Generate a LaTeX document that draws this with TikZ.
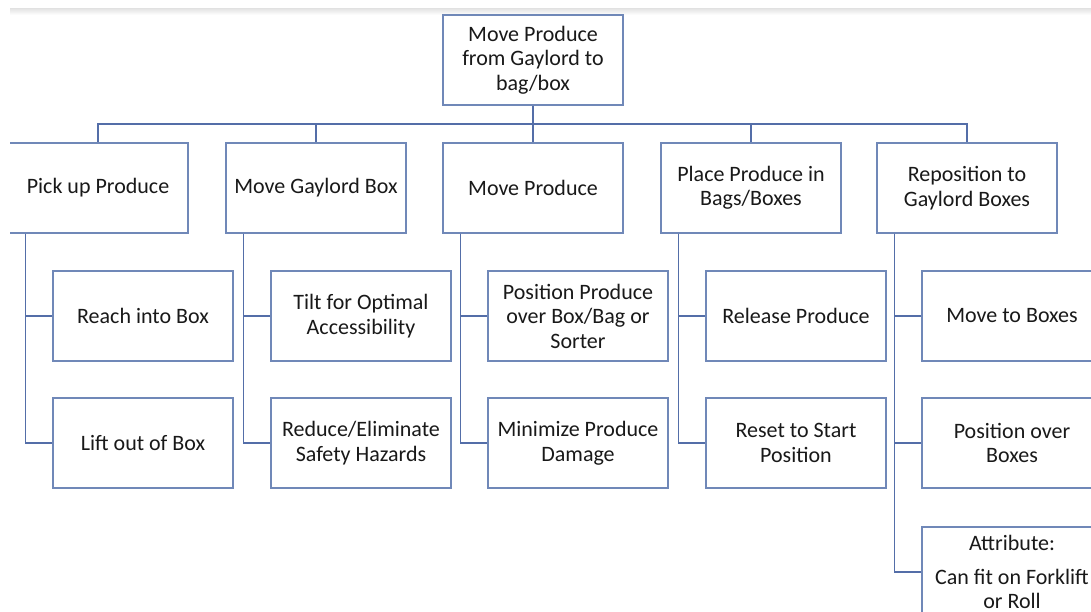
\documentclass[tikz,border=0pt]{standalone}
\usepackage{fontspec}
\setmainfont{Carlito}
\definecolor{boxc}{RGB}{112,136,184}
\definecolor{linec}{RGB}{84,110,168}
\definecolor{txt}{RGB}{25,25,25}
\begin{document}
\begin{tikzpicture}[x=1pt,y=-1pt,
  box/.style={draw=boxc, line width=1.3pt, minimum width=180pt, minimum height=90pt,
    inner sep=0pt, align=center, text=txt, font=\fontsize{22}{24.5}\selectfont},
  conn/.style={draw=linec, line width=1.3pt}]
\useasboundingbox (0,0) rectangle (1091,612);
\fill[white] (0,0) rectangle (1091,612);
\begin{scope}
\clip (10,0) rectangle (1091,612);
\fill[top color=black!10, bottom color=white] (10,9) rectangle (1091,15);
% root
\node[box] (t) at (533,60) {Move Produce\\from Gaylord to\\bag/box};
% level 1
\node[box] (a) at (98,188) {Pick up Produce};
\node[box] (b) at (316,188) {Move Gaylord Box};
\node[box] (c) at (533,188) {Move Produce};
\node[box] (d) at (751,188) {Place Produce in\\Bags/Boxes};
\node[box] (e) at (967,188) {Reposition to\\Gaylord Boxes};
% level 2
\node[box] (a1) at (143,316) {Reach into Box};
\node[box] (a2) at (143,443) {Lift out of Box};
\node[box] (b1) at (361,316) {Tilt for Optimal\\Accessibility};
\node[box] (b2) at (361,443) {Reduce/Eliminate\\Safety Hazards};
\node[box] (c1) at (578,316) {Position Produce\\over Box/Bag or\\Sorter};
\node[box] (c2) at (578,443) {Minimize Produce\\Damage};
\node[box] (d1) at (796,316) {Release Produce};
\node[box] (d2) at (796,443) {Reset to Start\\Position};
\node[box] (e1) at (1012,316) {Move to Boxes};
\node[box] (e2) at (1012,443) {Position over\\Boxes};
\node[box] (e3) at (1012,572) {\raisebox{2.5pt}{\parbox{180pt}{\centering Attribute:\\[9.5pt]Can fit on Forklift\\or Roll}}};
% connectors
\coordinate (bus) at (533,124);
\draw[conn] (t.south) -- (bus);
\foreach \n in {a,b,c,d,e} \draw[conn] (bus) -| (\n.north);
\foreach \n in {a,b,c,d,e} {
  \draw[conn] ([xshift=18pt]\n.south west) |- (\n1.west);
  \draw[conn] ([xshift=18pt]\n.south west) |- (\n2.west);
}
\draw[conn] ([xshift=18pt]e.south west) |- (e3.west);
\end{scope}
\end{tikzpicture}
\end{document}
